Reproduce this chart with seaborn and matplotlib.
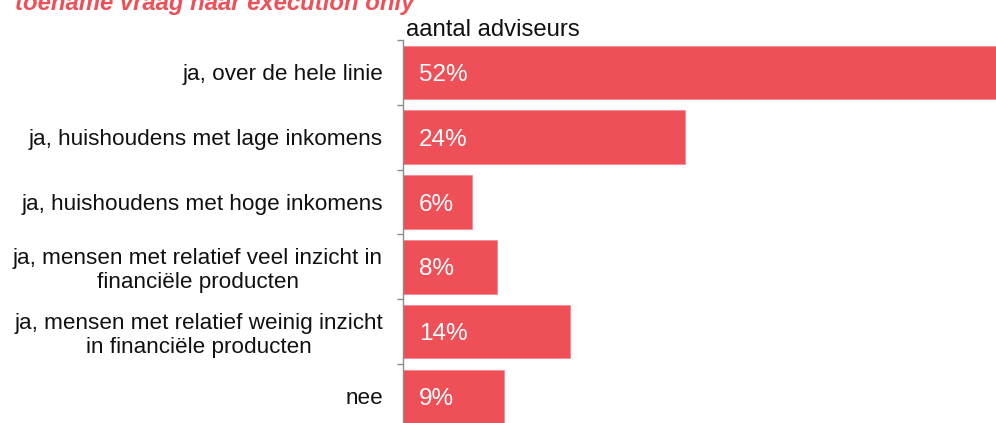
import matplotlib
matplotlib.use("Agg")
import matplotlib.pyplot as plt
import seaborn as sns
import pandas as pd
import numpy as np

categories = [
    "ja, over de hele linie",
    "ja, huishoudens met lage inkomens",
    "ja, huishoudens met hoge inkomens",
    "ja, mensen met relatief veel inzicht in\nfinanciële producten",
    "ja, mensen met relatief weinig inzicht\nin financiële producten",
    "nee",
]
values = [52.0, 24.0, 5.9, 8.0, 14.2, 8.6]
title_text = "toename vraag naar execution only"
series_name = "aantal adviseurs"

bar_color = "#EF5058"
axis_gray = "#8C8C8C"

sns.set_theme(style="white")
plt.rcParams["font.family"] = ["Liberation Sans", "DejaVu Sans"]

df = pd.DataFrame({"cat": categories, "val": values})

fig = plt.figure(figsize=(9.96, 4.23), dpi=100)
W, H = 996, 423
left_px, top_px, band_px = 403, 40, 64.8
n = len(categories)
bottom_px = top_px + band_px * n
ax = fig.add_axes([left_px / W, 1 - bottom_px / H, (W - left_px) / W, (bottom_px - top_px) / H])

sns.barplot(data=df, x="val", y="cat", orient="h", color=bar_color, saturation=1,
            width=0.83, ax=ax, edgecolor="#F58A90", linewidth=0.6)

ax.set_xlim(0, (W - left_px) / 11.75)
ax.set_ylim(n - 0.5, -0.5)
ax.set_xlabel("")
ax.set_ylabel("")
ax.set_xticks([])
for s in ["top", "right", "bottom"]:
    ax.spines[s].set_visible(False)
ax.spines["left"].set_color(axis_gray)
ax.spines["left"].set_linewidth(1.0)

ax.set_yticks(range(n))
ax.set_yticklabels(categories, fontsize=16.2, color="#111111")
ax.tick_params(axis="y", which="major", length=0, pad=14.4)
for lbl in ax.get_yticklabels():
    lbl.set_multialignment("center")
    lbl.set_linespacing(1.18)
ax.set_yticks(np.arange(n + 1) - 0.5, minor=True)
ax.tick_params(axis="y", which="minor", length=4, width=1.0, color=axis_gray, left=True)

for i, v in enumerate(values):
    ax.annotate(f"{v:.0f}%", xy=(0, i), xytext=(16, 0), textcoords="offset pixels",
                ha="left", va="center_baseline", fontsize=17.5, color="white")

fig.text(15 / W, 1 - 10 / H, title_text, fontsize=17.2, fontweight="bold", fontstyle="italic",
         color=bar_color, ha="left", va="baseline")
fig.text(406 / W, 1 - 36 / H, series_name, fontsize=17.2, color="#111111", ha="left", va="baseline")

fig.savefig("out.png", dpi=100)
